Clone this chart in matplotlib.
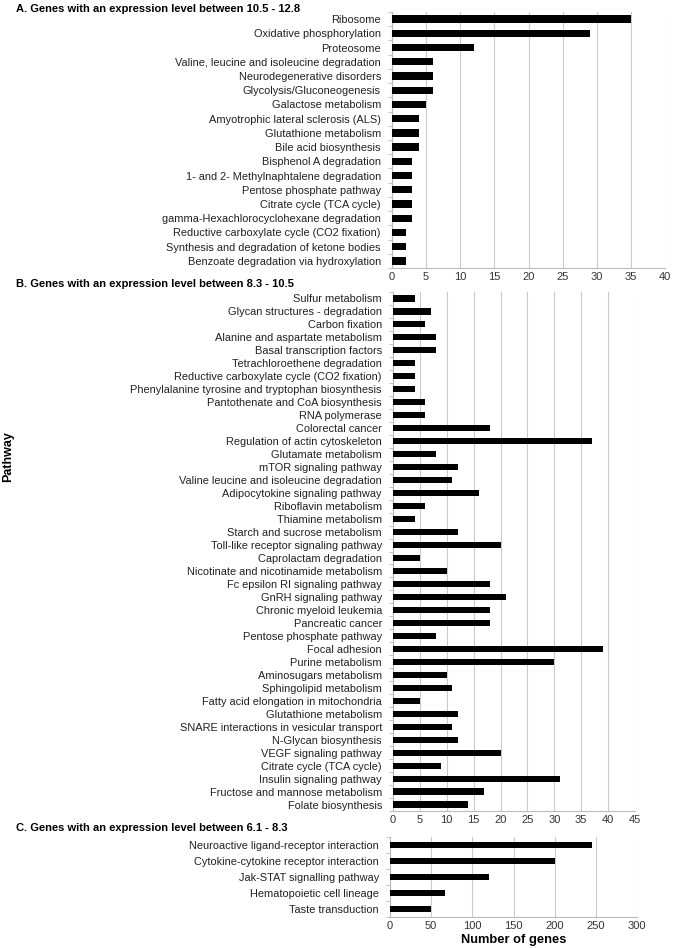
import matplotlib
matplotlib.use("Agg")
import matplotlib.pyplot as plt
import numpy as np

plt.rcParams['font.family'] = ['Liberation Sans', 'DejaVu Sans']

# ---- data ----
a_title = "A. Genes with an expression level between 10.5 - 12.8"
a_labels = ["Ribosome", "Oxidative phosphorylation", "Proteosome",
            "Valine, leucine and isoleucine degradation", "Neurodegenerative disorders",
            "Glycolysis/Gluconeogenesis", "Galactose metabolism",
            "Amyotrophic lateral sclerosis (ALS)", "Glutathione metabolism",
            "Bile acid biosynthesis", "Bisphenol A degradation",
            "1- and 2- Methylnaphtalene degradation", "Pentose phosphate pathway",
            "Citrate cycle (TCA cycle)", "gamma-Hexachlorocyclohexane degradation",
            "Reductive carboxylate cycle (CO2 fixation)",
            "Synthesis and degradation of ketone bodies",
            "Benzoate degradation via hydroxylation"]
a_values = [35, 29, 12, 6, 6, 6, 5, 4, 4, 4, 3, 3, 3, 3, 3, 2, 2, 2]
a_ticks = [0, 5, 10, 15, 20, 25, 30, 35, 40]

b_title = "B. Genes with an expression level between 8.3 - 10.5"
b_labels = ["Sulfur metabolism", "Glycan structures - degradation", "Carbon fixation",
            "Alanine and aspartate metabolism", "Basal transcription factors",
            "Tetrachloroethene degradation", "Reductive carboxylate cycle (CO2 fixation)",
            "Phenylalanine tyrosine and tryptophan biosynthesis",
            "Pantothenate and CoA biosynthesis", "RNA polymerase", "Colorectal cancer",
            "Regulation of actin cytoskeleton", "Glutamate metabolism",
            "mTOR signaling pathway", "Valine leucine and isoleucine degradation",
            "Adipocytokine signaling pathway", "Riboflavin metabolism",
            "Thiamine metabolism", "Starch and sucrose metabolism",
            "Toll-like receptor signaling pathway", "Caprolactam degradation",
            "Nicotinate and nicotinamide metabolism", "Fc epsilon RI signaling pathway",
            "GnRH signaling pathway", "Chronic myeloid leukemia", "Pancreatic cancer",
            "Pentose phosphate pathway", "Focal adhesion", "Purine metabolism",
            "Aminosugars metabolism", "Sphingolipid metabolism",
            "Fatty acid elongation in mitochondria", "Glutathione metabolism",
            "SNARE interactions in vesicular transport", "N-Glycan biosynthesis",
            "VEGF signaling pathway", "Citrate cycle (TCA cycle)",
            "Insulin signaling pathway", "Fructose and mannose metabolism",
            "Folate biosynthesis"]
b_values = [4, 7, 6, 8, 8, 4, 4, 4, 6, 6, 18, 37, 8, 12, 11, 16, 6, 4, 12, 20,
            5, 10, 18, 21, 18, 18, 8, 39, 30, 10, 11, 5, 12, 11, 12, 20, 9, 31, 17, 14]
b_ticks = [0, 5, 10, 15, 20, 25, 30, 35, 40, 45]

c_title = "C. Genes with an expression level between 6.1 - 8.3"
c_labels = ["Neuroactive ligand-receptor interaction",
            "Cytokine-cytokine receptor interaction", "Jak-STAT signalling pathway",
            "Hematopoietic cell lineage", "Taste transduction"]
c_values = [245, 200, 120, 67, 50]
c_ticks = [0, 50, 100, 150, 200, 250, 300]

x_label = "Number of genes"
y_label = "Pathway"

W, H = 685, 948
fig = plt.figure(figsize=(W / 100, H / 100), dpi=100)


def px_axes(left, top, right, bottom):
    return fig.add_axes([left / W, 1 - bottom / H, (right - left) / W, (bottom - top) / H])


def draw(ax, labels, values, ticks, height):
    n = len(labels)
    y = np.arange(n)
    ax.barh(y, values, height=height, color='black', zorder=3)
    ax.set_ylim(n - 0.5, -0.5)
    ax.set_xlim(ticks[0], ticks[-1])
    ax.set_xticks(ticks)
    ax.set_yticks(y)
    ax.set_yticklabels(labels, fontsize=7.9, color='#222222')
    ax.set_yticks(np.arange(n + 1) - 0.5, minor=True)
    ax.tick_params(axis='y', which='major', length=0, pad=8)
    ax.tick_params(axis='y', which='minor', length=3, color='#bbbbbb', width=0.6)
    ax.tick_params(axis='x', length=0, labelsize=8, labelcolor='#333333', pad=3)
    ax.grid(axis='x', color='#c3cccc', linewidth=0.8, zorder=0)
    for s in ['top', 'right']:
        ax.spines[s].set_visible(False)
    ax.spines['left'].set_color('#bbbbbb')
    ax.spines['bottom'].set_color('#bbbbbb')
    ax.spines['left'].set_linewidth(0.8)
    ax.spines['bottom'].set_linewidth(0.8)


axA = px_axes(392, 12, 665, 268)
draw(axA, a_labels, a_values, a_ticks, 0.52)
axB = px_axes(393, 292, 635, 811)
draw(axB, b_labels, b_values, b_ticks, 0.47)
axC = px_axes(390, 837, 637, 917)
draw(axC, c_labels, c_values, c_ticks, 0.42)
axC.set_xlabel(x_label, fontsize=9.3, fontweight='bold', labelpad=2)

fig.text(16 / W, 1 - 9 / H, a_title, fontsize=8.0, fontweight='bold', va='center', ha='left')
fig.text(16 / W, 1 - 284 / H, b_title, fontsize=8.0, fontweight='bold', va='center', ha='left')
fig.text(16 / W, 1 - 828 / H, c_title, fontsize=8.0, fontweight='bold', va='center', ha='left')
fig.text(8 / W, 1 - 457 / H, y_label, fontsize=9, fontweight='bold', rotation=90,
         va='center', ha='center')

fig.savefig("out.png", dpi=100, facecolor='white')
